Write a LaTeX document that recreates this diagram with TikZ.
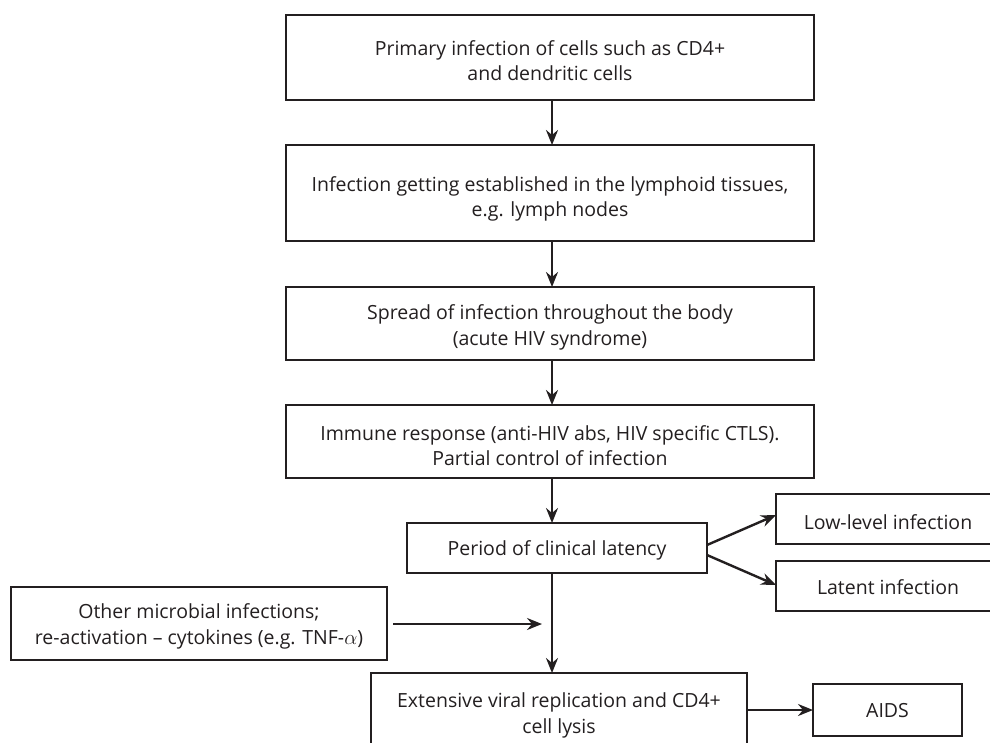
\documentclass[tikz,border=0pt]{standalone}
\usepackage{fontspec}
\setmainfont{Open Sans}
\usetikzlibrary{arrows.meta,calc}
\definecolor{ink}{HTML}{231F20}
\begin{document}
\begin{tikzpicture}[x=1pt,y=-1pt,
  box/.style={draw=ink,line width=2.6pt,rectangle,inner sep=0pt,outer sep=0pt},
  lbl/.style={align=center,text=ink,inner sep=0pt,font=\fontsize{19.5}{25.5}\selectfont},
  arr/.style={draw=ink,line width=2.4pt,-{Stealth[length=15pt,width=12pt,inset=5pt]}}]
\clip (0,0) rectangle (990,742);
\fill[white] (0,0) rectangle (990,742);
\coordinate (cx) at (552,0);
% boxes
\node[box,minimum width=528,minimum height=85] (b1) at (550,57.5) {};
\node[box,minimum width=528,minimum height=96] (b2) at (550,193) {};
\node[box,minimum width=528,minimum height=73] (b3) at (550,323.5) {};
\node[box,minimum width=528,minimum height=73] (b4) at (550,441.5) {};
\node[box,minimum width=300,minimum height=50] (lat) at (557,548) {};
\node[box,minimum width=224,minimum height=50] (low) at (888,519) {};
\node[box,minimum width=224,minimum height=50] (lin) at (888,586) {};
\node[box,minimum width=376,minimum height=73] (oth) at (199,623.5) {};
\node[box,minimum width=376,minimum height=79] (bot) at (559,712.5) {};
\node[box,minimum width=149,minimum height=52] (aids) at (887.5,710) {};
% texts
\node[lbl] (t1) at ([yshift=-3pt]b1.center)
  {Primary infection of cells such as CD4+\\and dendritic cells};
\node[lbl] (t2) at ([yshift=-6pt]b2.center)
  {Infection getting established in the lymphoid tissues,\\e.g. lymph nodes};
\node[lbl] (t3) at ([yshift=-4pt]b3.center)
  {Spread of infection throughout the body\\(acute HIV syndrome)};
\node[lbl] (t4) at ([yshift=-4pt]b4.center)
  {Immune response (anti-HIV abs, HIV specific CTLS).\\Partial control of infection};
\node[lbl] (tlat) at ([yshift=-2pt]lat.center) {Period of clinical latency};
\node[lbl] (tlow) at ([yshift=-3pt]low.center) {Low-level infection};
\node[lbl] (tlin) at ([yshift=-1pt]lin.center) {Latent infection};
\node[lbl] (toth) at ([yshift=-3pt]oth.center)
  {Other microbial infections;\\re-activation -- cytokines (e.g. TNF-$\alpha$)};
\node[lbl] (tbot) at ([yshift=-3pt]bot.center)
  {Extensive viral replication and CD4+\\cell lysis};
\node[lbl] (taids) at ([yshift=-1pt]aids.center) {AIDS};
% connectors
\coordinate (inj) at (542,624);
\draw[arr] (b1.south -| cx) -- (b2.north -| cx);
\draw[arr] (b2.south -| cx) -- (b3.north -| cx);
\draw[arr] (b3.south -| cx) -- (b4.north -| cx);
\draw[arr] (b4.south -| cx) -- (lat.north -| cx);
\draw[arr] (lat.south -| cx) -- (bot.north -| cx);
\draw[arr] ([yshift=3pt]lat.east) -- ([yshift=4pt]low.west);
\draw[arr] ([yshift=-7pt]lat.east) -- ([yshift=1pt]lin.west);
\draw[arr,shorten <=6pt] (oth.east |- inj) -- (inj);
\draw[arr] (bot.east |- aids.west) -- (aids.west);
\end{tikzpicture}
\end{document}
